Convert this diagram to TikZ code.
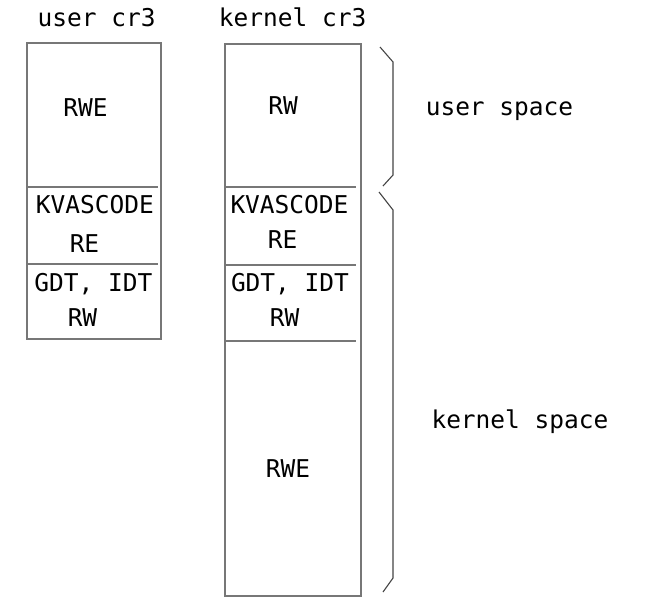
\documentclass[tikz,border=0pt]{standalone}
\usepackage{fontspec}
\setmonofont{DejaVu Sans Mono}
\usetikzlibrary{calc}
\definecolor{boxgray}{HTML}{777777}
\definecolor{bracegray}{HTML}{444444}

\begin{document}
\begin{tikzpicture}[x=1pt,y=-1pt,
	wall/.style={draw=boxgray,line width=2pt},
	brace/.style={draw=bracegray,line width=1.1pt,line join=miter},
	lbl/.style={font=\fontsize{24.5}{28}\selectfont\ttfamily,inner sep=0pt,anchor=base}]
	\useasboundingbox (0,0) rectangle (654,603);

	\newcommand{\userLeft}{27.3}
	\newcommand{\userRight}{160.7}
	\newcommand{\kernLeft}{225.3}
	\newcommand{\kernRight}{360.7}
	\newcommand{\braceX}{393}

	% titles
	\node[lbl] (user_title) at (96.7,26) {user cr3};
	\node[lbl] (kernel_title) at (292.7,26) {kernel cr3};

	% user cr3 table
	\draw[wall] (\userLeft,42.7) rectangle (\userRight,339.3);
	\draw[wall] (\userLeft,186.7) -- (\userRight-2.4,186.7);
	\draw[wall] (\userLeft,264) -- (\userRight-2.4,264);
	\node[lbl] (user_rwe) at (85.5,116) {RWE};
	\node[lbl] (user_kvas) at (95,213) {KVASCODE};
	\node[lbl] (user_re) at (84.5,252.5) {RE};
	\node[lbl] (user_gdt) at (93.5,291) {GDT, IDT};
	\node[lbl] (user_rw) at (82.5,326) {RW};

	% kernel cr3 table
	\draw[wall] (\kernLeft,44) rectangle (\kernRight,595.7);
	\draw[wall] (\kernLeft,186.7) -- (\kernRight-5,186.7);
	\draw[wall] (\kernLeft,265) -- (\kernRight-5,265);
	\draw[wall] (\kernLeft,340.7) -- (\kernRight-5,340.7);
	\node[lbl] (kernel_rw) at (283,114) {RW};
	\node[lbl] (kernel_kvas) at (289.5,213) {KVASCODE};
	\node[lbl] (kernel_re) at (282.5,248.5) {RE};
	\node[lbl] (kernel_gdt) at (290,291) {GDT, IDT};
	\node[lbl] (kernel_rw2) at (284.5,326) {RW};
	\node[lbl] (kernel_rwe) at (288,477) {RWE};

	% braces
	\coordinate (up_top) at (380,47);
	\coordinate (up_bot) at (383,186);
	\coordinate (low_top) at (379,192);
	\coordinate (low_bot) at (383,592);
	\draw[brace] (up_top) -- (\braceX,62) -- (\braceX,175) -- (up_bot);
	\draw[brace] (low_top) -- (\braceX,210) -- (\braceX,578) -- (low_bot);

	% spaces
	\node[lbl] (user_space) at (499.5,115) {user space};
	\node[lbl] (kernel_space) at (520,428) {kernel space};
\end{tikzpicture}
\end{document}
